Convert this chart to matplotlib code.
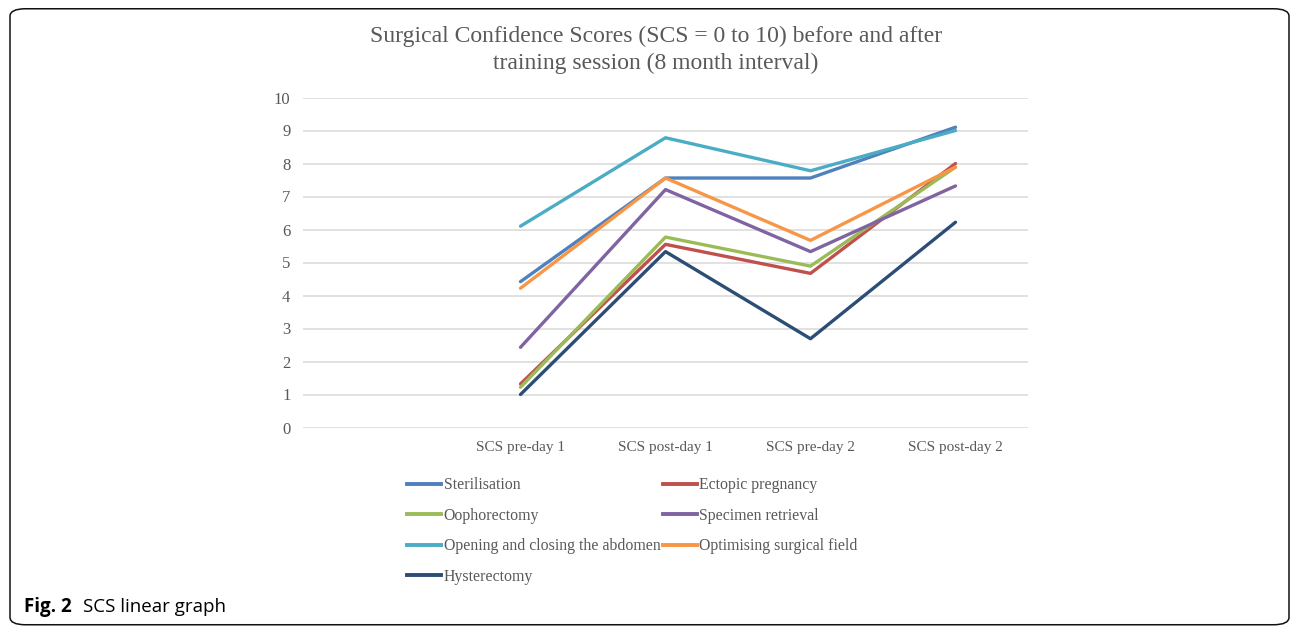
import matplotlib
matplotlib.use("Agg")
import matplotlib.pyplot as plt
from matplotlib.patches import FancyBboxPatch
from matplotlib.lines import Line2D

# Datos (escala 0-10)
categorias = ["", "SCS pre-day 1", "SCS post-day 1", "SCS pre-day 2", "SCS post-day 2"]
esterilizacion = [None, 4.42, 7.56, 7.56, 9.10]
ectopico = [None, 1.32, 5.55, 4.67, 8.00]
ooforectomia = [None, 1.22, 5.77, 4.89, 7.89]
especimen = [None, 2.43, 7.21, 5.33, 7.32]
abdomen = [None, 6.10, 8.78, 7.78, 9.00]
campo = [None, 4.22, 7.56, 5.67, 7.89]
histerectomia = [None, 1.00, 5.33, 2.69, 6.22]

series = [
    ("Sterilisation", esterilizacion, "#4F81BD"),
    ("Ectopic pregnancy", ectopico, "#C0504D"),
    ("Oophorectomy", ooforectomia, "#9BBB59"),
    ("Specimen retrieval", especimen, "#8064A2"),
    ("Opening and closing the abdomen", abdomen, "#4BACC6"),
    ("Optimising surgical field", campo, "#F79646"),
    ("Hysterectomy", histerectomia, "#2C4D75"),
]

serif = "Liberation Serif"
gris = "#595959"

fig = plt.figure(figsize=(12.92, 6.26), dpi=100)

# Marco redondeado
marco = FancyBboxPatch((10 / 1292, 0.002), 1279 / 1292, 0.984,
                       boxstyle="round,pad=0,rounding_size=0.012",
                       transform=fig.transFigure, fill=False,
                       edgecolor="#111111", linewidth=1.1)
fig.patches.append(marco)

ax = fig.add_axes([303 / 1292, 1 - 427.5 / 626, 725 / 1292, 330 / 626])

x = list(range(len(categorias)))
for nombre, valores, color in series:
    xs = [i for i, v in zip(x, valores) if v is not None]
    ys = [v for v in valores if v is not None]
    ax.plot(xs, ys, color=color, linewidth=2.4, solid_capstyle="round", label=nombre)

ax.set_xlim(-0.5, len(categorias) - 0.5)
ax.set_ylim(0, 10)
ax.set_yticks(range(0, 11))
ax.set_xticks(x)
ax.set_xticklabels(categorias)
ax.yaxis.grid(True, color="#D9D9D9", linewidth=1.1)
ax.set_axisbelow(True)
for s in ax.spines.values():
    s.set_visible(False)
ax.tick_params(length=0, labelsize=11, labelcolor=gris, pad=10)
ax.tick_params(axis="y", pad=9, labelsize=12)
for t in ax.get_xticklabels() + ax.get_yticklabels():
    t.set_fontfamily(serif)

fig.text(656 / 1292, 1 - 50 / 626,
         "Surgical Confidence Scores (SCS = 0 to 10) before and after\ntraining session (8 month interval)",
         ha="center", va="center", fontsize=17, color=gris, family=serif,
         linespacing=1.33)

# Leyenda ordenada por filas
handles = [Line2D([], [], color=c, linewidth=2.8) for _, _, c in series]
labels = [n for n, _, _ in series]
orden = [0, 2, 4, 6, 1, 3, 5]
fig.legend([handles[i] for i in orden], [labels[i] for i in orden],
           loc="upper left", bbox_to_anchor=(393 / 1292, 1 - 463 / 626),
           ncol=2, frameon=False, handlelength=2.15, handletextpad=0.15,
           columnspacing=0.15, labelspacing=0.92,
           prop={"family": serif, "size": 11.4}, labelcolor=gris)

fig.text(24 / 1292, 1 - 607 / 626, "Fig. 2", fontsize=13.5, fontweight="bold",
         family="Open Sans", va="center", ha="left")
fig.text(83 / 1292, 1 - 607 / 626, "SCS linear graph", fontsize=13.5,
         family="Open Sans", va="center", ha="left")

fig.savefig("out.png", dpi=100)
